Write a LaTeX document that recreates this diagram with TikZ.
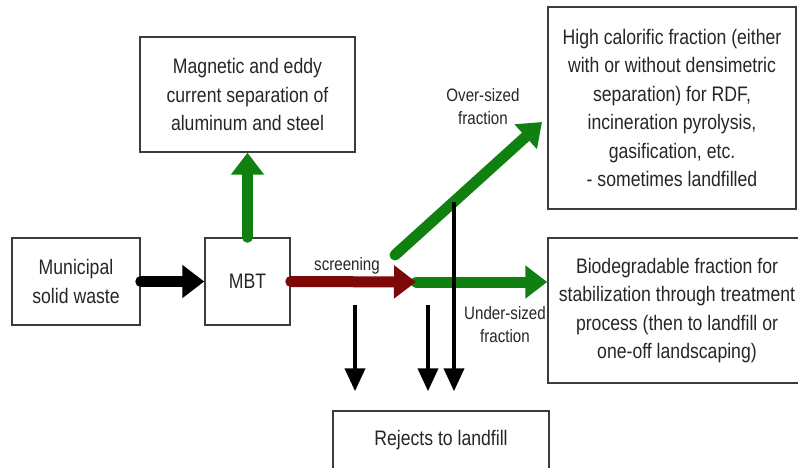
\documentclass[tikz,border=0pt]{standalone}
\usepackage{fontspec}
\setmainfont{Liberation Sans}[FakeStretch=0.84]
\usetikzlibrary{arrows.meta,positioning}
\definecolor{flowgreen}{RGB}{16,128,16}
\definecolor{flowred}{RGB}{125,8,8}
\definecolor{boxgray}{RGB}{60,60,60}
\tikzset{
  box/.style={draw=boxgray,line width=1.5pt,align=center,text=black!85,
    font=\fontsize{21}{28.5}\selectfont,inner sep=0pt},
  lbl/.style={align=center,text=black!85,font=\fontsize{18}{23}\selectfont},
  fat/.style={line width=11pt,line cap=round,-{Triangle[length=22pt,width=32pt]}},
  reject/.style={line width=4pt,-{Triangle[length=23pt,width=20pt]},shorten >=19pt}
}

\begin{document}
\begin{tikzpicture}[x=1pt,y=-1pt]
      \useasboundingbox (0,0) rectangle (798,468);
      \node[box,minimum width=128pt,minimum height=87pt] (msw) at (76,281.5) {Municipal\\solid waste};
      \node[box,minimum width=85pt,minimum height=87pt] (mbt) at (247.5,281.5) {MBT};
      \node[box,minimum width=215pt,minimum height=115pt] (mag) at (247.5,94.5)
        {Magnetic and eddy\\current separation of\\aluminum and steel};
      \node[box,minimum width=248pt,minimum height=202pt] (high) at (672,108)
        {High calorific fraction (either\\with or without densimetric\\separation) for RDF,\\incineration pyrolysis,\\gasification, etc.\\- sometimes landfilled};
      \node[box,minimum width=258pt,minimum height=145pt] (bio) at (677,310.5)
        {Biodegradable fraction for\\stabilization through treatment\\process (then to landfill or\\one-off landscaping)};
      \node[box,minimum width=216pt,minimum height=59pt] (rej) at (441,440.5) {Rejects to landfill};

      \coordinate (split) at (416,282);
      \coordinate (os1) at (395,255);
      \coordinate (os2) at (542,122);
      \coordinate (r1) at (355,305);
      \coordinate (r2) at (428,305);
      \coordinate (r3) at (454,202);

      \node[lbl] (scr) at (347,266) {screening};
      \node[lbl] (over) at (483,107) {Over-sized\\fraction};
      \node[lbl] (under) at (505,325) {Under-sized\\fraction};

      \draw[fat] (msw.east) -- (mbt.west);
      \draw[fat,flowgreen] (mbt.north) -- (mag.south);
      \draw[fat,flowgreen] (split) -- (split -| bio.west);
      \draw[fat,flowred] (mbt.east) -- (split);
      \draw[fat,flowgreen] (os1) -- (os2);
      \draw[reject] (r1) -- (r1 |- rej.north);
      \draw[reject] (r2) -- (r2 |- rej.north);
      \draw[reject] (r3) -- (r3 |- rej.north);
\end{tikzpicture}
\end{document}
